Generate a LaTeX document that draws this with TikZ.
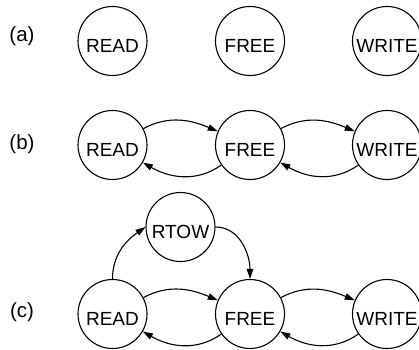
\documentclass[tikz,border=0pt]{standalone}
\usepackage{fontspec}
\setmainfont{Liberation Sans}
\usetikzlibrary{arrows.meta}
\begin{document}
\begin{tikzpicture}[x=1pt,y=1pt,
  state/.style={circle,draw,line width=1.1pt,minimum size=69pt,inner sep=0pt,
    text height=23pt,text depth=0pt,font=\fontsize{19}{21}\selectfont},
  tag/.style={font=\fontsize{20.5}{22}\selectfont},
  trans/.style={line width=1.1pt,-{Triangle[length=10pt,width=6.5pt]}}]
\useasboundingbox (0,0) rectangle (419,349);

% (a) three unconnected states
\node[tag] (la) at (22,313) {(a)};
\node[state] (ra) at (112.5,308) {READ};
\node[state] (fa) at (250,308) {FREE};
\node[state] (wa) at (387,308) {WRITE};

% (b) read/free/write with transitions both ways
\node[tag] (lb) at (22,204.5) {(b)};
\node[state] (rb) at (112.5,204) {READ};
\node[state] (fb) at (250,204) {FREE};
\node[state] (wb) at (387,204) {WRITE};
\draw[trans] (rb) to[out=28,in=157] (fb);
\draw[trans] (fb) to[out=215,in=-30] (rb);
\draw[trans] (fb) to[out=28,in=157] (wb);
\draw[trans] (wb) to[out=215,in=-30] (fb);

% (c) adds the read-to-write state
\node[tag] (lc) at (22,37) {(c)};
\node[state] (rc) at (112.5,35) {READ};
\node[state] (fc) at (250,35) {FREE};
\node[state] (wc) at (387,35) {WRITE};
\node[state] (tc) at (180.5,122) {RTOW};
\draw[trans] (rc) to[out=28,in=157] (fc);
\draw[trans] (fc) to[out=215,in=-30] (rc);
\draw[trans] (fc) to[out=28,in=157] (wc);
\draw[trans] (wc) to[out=215,in=-30] (fc);
\draw[trans] (rc.north) to[out=90,in=215] (tc.west);
\draw[trans] (tc.east) to[out=0,in=90] (fc.north);
\end{tikzpicture}
\end{document}
